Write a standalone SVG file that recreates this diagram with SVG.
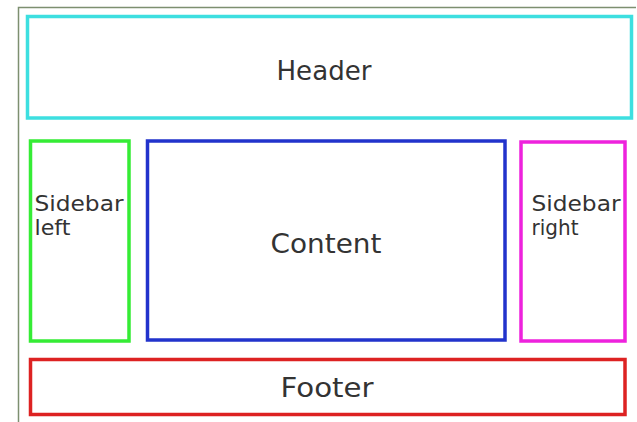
<svg xmlns="http://www.w3.org/2000/svg" width="637" height="422" viewBox="0 0 637 422">
<style>
.box{fill:#fff;stroke-width:3.5}
.lbl{font-family:"DejaVu Sans",Verdana,sans-serif;fill:#333}
.big{font-size:27px;text-anchor:middle}
.small{font-size:22px}
</style>
<rect x="0" y="0" width="637" height="422" fill="#fff"/>
<path d="M18.5 425 V7.5 H636" fill="none" stroke="#7d8f70" stroke-width="1.5"/>
<g id="connectors"/>
<g id="header">
<rect class="box" x="27.5" y="16.5" width="604" height="101.5" stroke="#3ddfe0" stroke-width="4"/>
<text class="lbl big" x="324" y="80" textLength="95" lengthAdjust="spacingAndGlyphs">Header</text>
</g>
<g id="sidebar-left">
<rect class="box" x="30.5" y="141" width="98.5" height="200" stroke="#35ec35"/>
<text class="lbl small" x="34.5" y="211" textLength="89" lengthAdjust="spacingAndGlyphs">Sidebar</text>
<text class="lbl small" x="34.5" y="235" textLength="36" lengthAdjust="spacingAndGlyphs">left</text>
</g>
<g id="content">
<rect class="box" x="147.5" y="141" width="357.5" height="199" stroke="#2233cc"/>
<text class="lbl big" x="326" y="253" textLength="111" lengthAdjust="spacingAndGlyphs">Content</text>
</g>
<g id="sidebar-right">
<rect class="box" x="521" y="142" width="104" height="199" stroke="#ee22dd"/>
<text class="lbl small" x="531.5" y="211" textLength="89" lengthAdjust="spacingAndGlyphs">Sidebar</text>
<text class="lbl small" x="531.5" y="235" textLength="47" lengthAdjust="spacingAndGlyphs">right</text>
</g>
<g id="footer">
<rect class="box" x="30.5" y="359.5" width="594.5" height="55" stroke="#dd2222"/>
<text class="lbl big" x="327" y="397" textLength="93" lengthAdjust="spacingAndGlyphs">Footer</text>
</g>
</svg>
